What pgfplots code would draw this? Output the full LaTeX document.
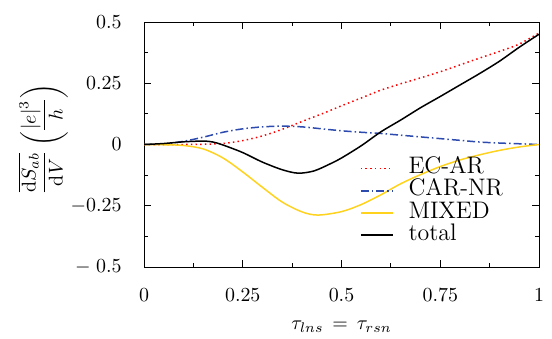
\documentclass[border=0pt]{standalone}
\usepackage{pgfplots}
\pgfplotsset{compat=1.18}
\usetikzlibrary{calc}
\definecolor{cblue}{RGB}{45,75,175}
\definecolor{cyellow}{RGB}{255,210,30}
\begin{document}
\begin{tikzpicture}
\begin{axis}[
  name=ax,
  scale only axis, width=197.5bp, height=122.5bp,
  xmin=0, xmax=1, ymin=-0.5, ymax=0.5,
  xtick={0,0.25,0.5,0.75,1}, xticklabels={$0$,$0.25$,$0.5$,$0.75$,$1$},
  ytick={-0.5,-0.25,0,0.25,0.5}, yticklabels={$-\;0.5$,$-0.25$,$0$,$0.25$,$0.5$},
  minor tick num=1,
  tick align=inside, major tick length=3.5bp, minor tick length=2bp,
  tick style={black, line width=0.4pt},
  xticklabel style={yshift=-7.2bp},
  yticklabel style={xshift=-7.7bp},
  xlabel={$\tau_{lns}\,=\,\tau_{rsn}$},
  xlabel style={at={(axis description cs:0.5,-0.245)}, anchor=center},
  ylabel={$\displaystyle\frac{\overline{\mathrm{d}S_{ab}}}{\mathrm{d}V}\left(\frac{|e|^3}{h}\right)$},
  ylabel style={at={(axis description cs:-0.256,0.522)}, anchor=center},
  legend style={at={(0.547,0.447)}, anchor=north west, draw=none, fill=none,
    inner sep=0pt, outer sep=0pt, font=\large, row sep=0pt, column sep=7.5bp,
    nodes={inner sep=0pt, text height=8.1bp, text depth=3bp}},
  legend cell align=left,
  legend image code/.code={\draw[#1] (0bp,0bp) -- (16bp,0bp);},
  every axis plot/.append style={line width=0.75pt},
]
\addplot[red, dash pattern=on 0.75pt off 1.6pt, smooth] coordinates {
(0,0) (0.05,0) (0.1,0) (0.15,0.001) (0.2,0.004) (0.25,0.016) (0.3,0.035)
(0.35,0.062) (0.4,0.094) (0.45,0.125) (0.5,0.158) (0.55,0.19) (0.6,0.222)
(0.65,0.248) (0.7,0.272) (0.75,0.297) (0.8,0.325) (0.85,0.353) (0.9,0.38)
(0.95,0.41) (1.0,0.455)};
\addlegendentry{EC-AR}
\addplot[cblue, dash pattern=on 4bp off 1.5bp on 0.75bp off 1.5bp, smooth] coordinates {
(0,0) (0.05,0.002) (0.1,0.013) (0.15,0.03) (0.2,0.05) (0.25,0.064) (0.3,0.072)
(0.35,0.075) (0.4,0.072) (0.45,0.064) (0.5,0.056) (0.55,0.05) (0.6,0.045)
(0.65,0.038) (0.7,0.031) (0.75,0.024) (0.8,0.017) (0.85,0.01) (0.9,0.006)
(0.95,0.003) (1.0,0)};
\addlegendentry{CAR-NR}
\addplot[cyellow, smooth] coordinates {
(0,0) (0.05,-0.001) (0.1,-0.004) (0.15,-0.018) (0.2,-0.055) (0.25,-0.112)
(0.3,-0.175) (0.35,-0.235) (0.4,-0.275) (0.44,-0.288) (0.5,-0.274)
(0.55,-0.245) (0.6,-0.205) (0.65,-0.16) (0.7,-0.123) (0.75,-0.09) (0.8,-0.063)
(0.85,-0.042) (0.9,-0.024) (0.95,-0.01) (1.0,0)};
\addlegendentry{MIXED}
\addplot[black, smooth] coordinates {
(0,0) (0.05,0.004) (0.1,0.011) (0.15,0.014) (0.175,0.01) (0.2,-0.002)
(0.25,-0.033) (0.3,-0.072) (0.35,-0.103) (0.39,-0.117) (0.43,-0.108)
(0.47,-0.08) (0.5,-0.055) (0.55,-0.005) (0.6,0.052) (0.65,0.1) (0.7,0.15)
(0.75,0.196) (0.8,0.243) (0.85,0.29) (0.9,0.34) (0.95,0.397) (1.0,0.45)};
\addlegendentry{total}
\end{axis}
\pgfresetboundingbox
\useasboundingbox ($(ax.south west)+(-72bp,-36bp)$) rectangle ($(ax.north east)+(6.5bp,11bp)$);
\end{tikzpicture}
\end{document}
